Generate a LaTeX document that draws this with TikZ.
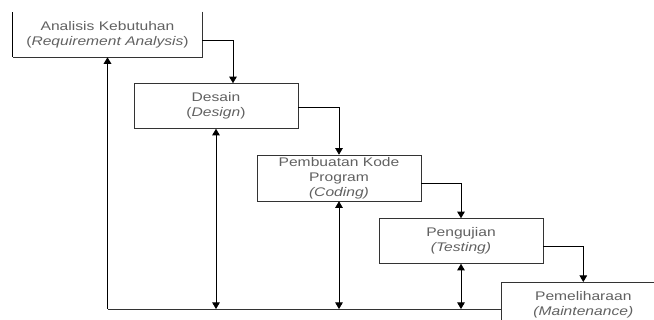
\documentclass[tikz,border=0pt]{standalone}
\usepackage{fontspec}
\setmainfont{Liberation Sans}[FakeStretch=1.25]
\usetikzlibrary{arrows.meta}

\begin{document}
\begin{tikzpicture}[x=1pt,y=-1pt,
  stage/.style={draw=black!80,line width=0.6pt,minimum width=164pt,minimum height=45pt,
    inner sep=0pt,align=center,text=black!62,font=\fontsize{12.5}{15}\selectfont},
  flow/.style={-{Triangle[width=7.5pt,length=6.5pt]},line width=0.7pt},
  back/.style={{Triangle[width=7.5pt,length=6.5pt]}-{Triangle[width=7.5pt,length=6.5pt]},line width=0.7pt}]
\useasboundingbox (0,0) rectangle (654,320);

% tahapan waterfall
\node[stage,draw=none,minimum width=189pt] (analisis) at (107.5,34.5) {Analisis Kebutuhan\\(\textit{Requirement Analysis})};
\node[stage] (desain) at (216,106) {Desain\\(\textit{Design})};
\node[stage,minimum height=46pt] (kode) at (339,178) {Pembuatan Kode\\Program\\\textit{(Coding)}};
\node[stage] (uji) at (461,241) {Pengujian\\\textit{(Testing)}};
\node[stage,anchor=north west] (pelihara) at (501,282) {Pemeliharaan\\\textit{(Maintenance)}};
\draw[line width=0.6pt,black!80] (analisis.north east) -- (analisis.south east) -- (analisis.south west);
\draw[line width=1.3pt] (analisis.south west) -- (analisis.north west);

% alur ke bawah
\draw[flow] ([yshift=-5.5pt]analisis.east) -| ([xshift=17pt]desain.north);
\draw[flow] ([yshift=-1pt]desain.east) -| (kode.north);
\draw[flow] ([yshift=-5pt]kode.east) -| (uji.north);
\draw[flow] ([yshift=-5pt]uji.east) -| (pelihara.north);

% umpan balik
\coordinate (dasar) at (0,309);
\draw[line width=0.7pt,black!80] (pelihara.west |- dasar) -- (analisis.south |- dasar);
\draw[flow,line width=1.3pt] (analisis.south |- dasar) -- (analisis.south);
\draw[back] (desain.south) -- (desain.south |- dasar);
\draw[back] (kode.south) -- (kode.south |- dasar);
\draw[back] (uji.south) -- (uji.south |- dasar);
\end{tikzpicture}
\end{document}
